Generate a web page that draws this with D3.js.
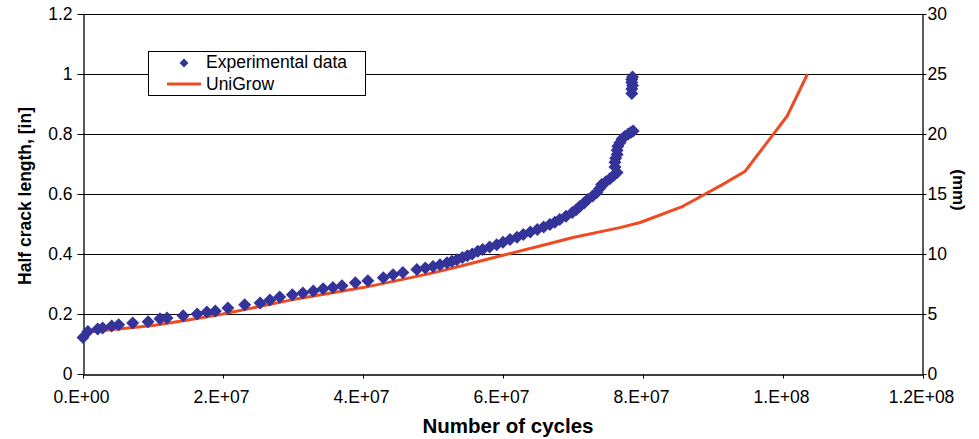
<!DOCTYPE html>
<html>
<head>
<meta charset="utf-8">
<script src="https://cdn.jsdelivr.net/npm/d3@7"></script>
<style>
  html, body { margin: 0; padding: 0; background: #fff; }
  svg { display: block; font-family: "Liberation Sans", Arial, Helvetica, sans-serif; }
</style>
</head>
<body>
<svg id="chart" width="979" height="439"></svg>
<script>
// ---- Data (cycles in millions) ----
const expCyclesM = [0, 0.7, 2.1, 2.8, 4.1, 5.1, 7.1, 9.3, 11.0, 12.0, 14.3, 16.3, 17.7, 18.9, 20.7, 23.1, 25.3,
  26.7, 28.1, 29.9, 31.4, 32.9, 34.3, 35.7, 37.0, 38.9, 40.7, 42.9, 44.3, 45.7, 47.7, 48.9, 50.0, 51.0,
  52.0, 52.7, 53.4, 54.2, 54.9, 55.6, 56.4, 57.1, 58.1, 59.1, 60.0, 61.0, 62.0, 62.9, 63.9, 64.9, 65.8, 66.7, 67.4,
  68.1, 69.0, 69.9, 70.5, 71.0, 71.6, 72.1, 72.8, 73.4, 73.8, 74.1, 74.7, 75.3, 75.8, 76.3, 76.0, 76.0, 76.1, 76.3,
  76.3, 76.4, 76.7, 77.0, 77.4, 77.9, 78.3, 78.6,
  78.4, 78.4, 78.5, 78.4, 78.4, 78.5];
const expLength = [0.122, 0.142, 0.150, 0.153, 0.160, 0.164, 0.170, 0.174, 0.184, 0.187, 0.194, 0.200, 0.207, 0.210, 0.220, 0.231, 0.237,
  0.247, 0.257, 0.264, 0.270, 0.277, 0.284, 0.288, 0.294, 0.304, 0.311, 0.321, 0.331, 0.338, 0.348, 0.353, 0.358, 0.364,
  0.371, 0.376, 0.381, 0.388, 0.394, 0.400, 0.409, 0.415, 0.423, 0.431, 0.439, 0.448, 0.456, 0.465, 0.473, 0.482, 0.490, 0.498, 0.506,
  0.515, 0.526, 0.538, 0.548, 0.559, 0.570, 0.582, 0.593, 0.605, 0.618, 0.632, 0.641, 0.652, 0.662, 0.672, 0.690, 0.706, 0.719, 0.732,
  0.746, 0.759, 0.771, 0.783, 0.792, 0.800, 0.806, 0.810,
  0.935, 0.950, 0.962, 0.972, 0.982, 0.990];

const uniCyclesM = [0, 5, 10, 15, 20, 25, 30, 35, 40, 45, 50, 54, 60, 65, 70, 76.7, 79.6, 85.7, 91.4, 94.6, 100.6, 103.5];
const uniLength = [0.138, 0.150, 0.162, 0.180, 0.200, 0.224, 0.248, 0.268, 0.288, 0.312, 0.337, 0.360, 0.396, 0.425,
  0.455, 0.488, 0.505, 0.559, 0.632, 0.676, 0.860, 1.000];

const xTicks = [0, 2e7, 4e7, 6e7, 8e7, 1e8, 1.2e8];
const xTickLabels = ["0.E+00", "2.E+07", "4.E+07", "6.E+07", "8.E+07", "1.E+08", "1.2E+08"];
const yTicks = [0, 0.2, 0.4, 0.6, 0.8, 1, 1.2];
const yTickLabels = ["0", "0.2", "0.4", "0.6", "0.8", "1", "1.2"];
const y2Ticks = [0, 5, 10, 15, 20, 25, 30];

const seriesNames = ["Experimental data", "UniGrow"];

// ---- Layout ----
const svg = d3.select("#chart");
const L = 83, R = 923, T = 14, B = 374;
const x = d3.scaleLinear().domain([0, 1.2e8]).range([L, R]);
const y = d3.scaleLinear().domain([0, 1.2]).range([B, T]);
const y2 = d3.scaleLinear().domain([0, 30]).range([B, T]);
const blue = "#333399", orange = "#EE4B22";
const FS = "17.5px";

// gridlines
svg.append("g").selectAll("line").data(yTicks.slice(1)).join("line")
  .attr("x1", L).attr("x2", R)
  .attr("y1", d => Math.round(y(d)) + 0.5).attr("y2", d => Math.round(y(d)) + 0.5)
  .attr("stroke", "#000").attr("stroke-width", 1);

// axes
const xAxis = svg.append("g").attr("transform", `translate(0,${B + 0.5})`)
  .call(d3.axisBottom(x).tickValues(xTicks).tickFormat((d, i) => xTickLabels[i]).tickSize(4).tickSizeOuter(0));
const yAxis = svg.append("g").attr("transform", `translate(${L + 0.5},0)`)
  .call(d3.axisLeft(y).tickValues(yTicks).tickFormat((d, i) => yTickLabels[i]).tickSize(6).tickSizeOuter(0));
const y2Axis = svg.append("g").attr("transform", `translate(${R - 0.5},0)`)
  .call(d3.axisRight(y2).tickValues(y2Ticks).tickFormat(d3.format("d")).tickSize(4).tickSizeOuter(0));

[xAxis, yAxis, y2Axis].forEach(g => {
  g.attr("font-size", null).attr("font-family", null);
  g.selectAll("path.domain").attr("stroke", "#000").attr("stroke-width", 1.3);
  g.selectAll(".tick line").attr("stroke", "#000");
  g.selectAll(".tick text").attr("fill", "#000").style("font-size", FS);
});
xAxis.selectAll(".tick text").attr("dy", "1.25em").attr("dx", -2);
yAxis.selectAll(".tick text").attr("x", -11);
y2Axis.selectAll(".tick text").attr("x", 5);

// UniGrow line
const line = d3.line().x(d => x(d[0] * 1e6)).y(d => y(d[1]));
svg.append("path").datum(uniCyclesM.map((c, i) => [c, uniLength[i]]))
  .attr("d", line).attr("fill", "none").attr("stroke", orange).attr("stroke-width", 3)
  .attr("stroke-linejoin", "round");

// Experimental diamonds
const diamond = s => `M0,${-s}L${s},0L0,${s}L${-s},0Z`;
svg.append("g").selectAll("path").data(expCyclesM.map((c, i) => [c, expLength[i]])).join("path")
  .attr("transform", d => `translate(${x(d[0] * 1e6)},${y(d[1])})`)
  .attr("d", diamond(6.5)).attr("fill", blue);

// Axis titles
svg.append("text").attr("x", 508).attr("y", 433).attr("text-anchor", "middle")
  .style("font-size", "20.5px").style("font-weight", "bold").text("Number of cycles");
svg.append("text").attr("transform", "translate(31,196) rotate(-90)").attr("text-anchor", "middle")
  .style("font-size", "17.5px").style("font-weight", "bold").text("Half crack length, [in]");
svg.append("text").attr("transform", "translate(953,190) rotate(90)").attr("text-anchor", "middle")
  .style("font-size", "17px").style("font-weight", "bold").text("(mm)");

// Legend
const lg = svg.append("g");
lg.append("rect").attr("x", 148.5).attr("y", 51.5).attr("width", 217).attr("height", 44)
  .attr("fill", "#fff").attr("stroke", "#000").attr("stroke-width", 1);
lg.append("path").attr("transform", "translate(184,63)").attr("d", diamond(4.5)).attr("fill", blue);
lg.append("line").attr("x1", 167).attr("x2", 201).attr("y1", 84).attr("y2", 84)
  .attr("stroke", orange).attr("stroke-width", 3);
lg.append("text").attr("x", 206).attr("y", 68).style("font-size", "17.5px").text(seriesNames[0]);
lg.append("text").attr("x", 206).attr("y", 90).style("font-size", "17.5px").text(seriesNames[1]);
</script>
</body>
</html>
